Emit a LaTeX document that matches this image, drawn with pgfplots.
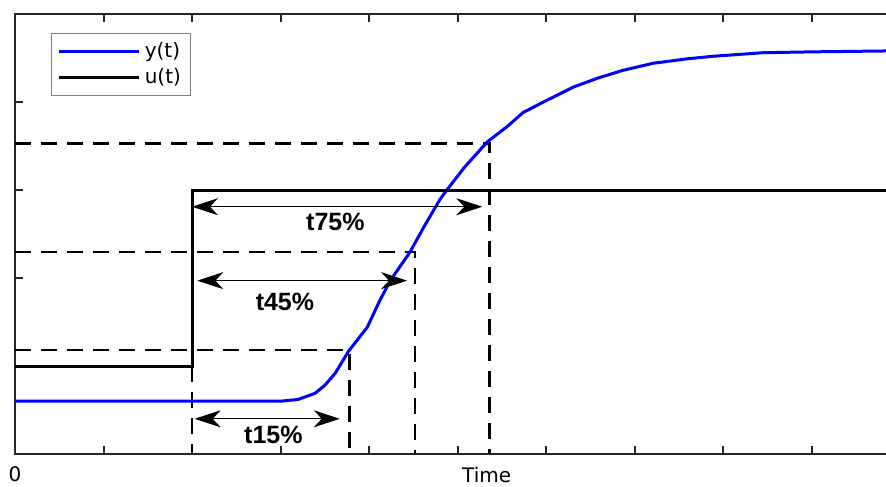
\documentclass[border=0pt]{standalone}
\usepackage{fontspec}
\setmainfont{DejaVu Sans}
\newfontfamily\lib{Liberation Sans}
\usepackage{pgfplots}
\pgfplotsset{compat=1.18}
\usetikzlibrary{arrows.meta}
\definecolor{axgray}{RGB}{38,38,38}
\begin{document}
\begin{tikzpicture}
\begin{axis}[
  scale only axis,
  width=442.5pt, height=220pt,
  xmin=0, xmax=10, ymin=0, ymax=5,
  axis line style={axgray, line width=1pt},
  tick style={axgray, line width=1pt},
  major tick length=4pt,
  tick align=inside,
  xtick={0,1,2,3,4,5,6,7,8,9,10},
  xticklabels={0,,,,,,,,,,},
  ytick={1,2,3,4},
  yticklabels={},
  /pgf/number format/assume math mode=true,
  tick label style={font=\fontsize{10pt}{12pt}\selectfont},
  xticklabel style={yshift=-3pt},
  xlabel={Time},
  xlabel style={at={(axis description cs:0.533,0)}, anchor=north, yshift=-3pt, font=\fontsize{10pt}{12pt}\selectfont},
  legend style={at={(axis description cs:0.041,0.957)}, anchor=north west,
     draw=gray, line width=0.5pt, font=\fontsize{10pt}{12pt}\selectfont,
     inner xsep=3pt, inner ysep=2.5pt, row sep=0pt},
  legend cell align=left,
  legend image code/.code={\draw[#1] (0pt,0pt) -- (40pt,0pt);},
  clip=false,
]
% dashed guides
\addplot[forget plot, black, line width=1.3pt, dash pattern=on 8pt off 5pt] coordinates {(0,1.18) (3.78,1.18) (3.78,0)};
\addplot[forget plot, black, line width=1.3pt, dash pattern=on 8pt off 5pt] coordinates {(0,2.295) (4.52,2.295) (4.52,0)};
\addplot[forget plot, black, line width=1.3pt, dash pattern=on 8pt off 5pt] coordinates {(0,3.53) (5.36,3.53) (5.36,0)};
\addplot[forget plot, black, line width=1.3pt, dash pattern=on 8pt off 5pt] coordinates {(2,1) (2,0)};
% y(t)
\addplot[blue, line width=1.5pt, line join=round] coordinates {
(0,0.60) (3.00,0.60) (3.20,0.62) (3.39,0.69) (3.50,0.78) (3.62,0.92) (3.77,1.17)
(3.98,1.44) (4.12,1.74) (4.24,1.97) (4.46,2.29) (4.62,2.58) (4.80,2.89) (4.88,3.00)
(5.08,3.26) (5.34,3.55) (5.56,3.72) (5.74,3.88) (6.01,4.02) (6.31,4.17)
(6.58,4.27) (6.87,4.36) (7.21,4.44) (7.59,4.49) (7.89,4.52) (8.45,4.56)
(9.02,4.57) (9.84,4.58) (10,4.58)};
\addlegendentry{y(t)}
% u(t)
\addplot[black, line width=1.5pt] coordinates {(0,1) (2,1) (2,3) (10,3)};
\addlegendentry{u(t)}
% arrows
\addplot[forget plot, black, line width=0.5pt, {Stealth[length=13pt,width=8.5pt,inset=4pt]}-{Stealth[length=13pt,width=8.5pt,inset=4pt]}] coordinates {(2.0,2.81) (5.28,2.81)};
\addplot[forget plot, black, line width=0.5pt, {Stealth[length=13pt,width=8.5pt,inset=4pt]}-{Stealth[length=13pt,width=8.5pt,inset=4pt]}] coordinates {(2.06,1.97) (4.43,1.97)};
\addplot[forget plot, black, line width=0.5pt, {Stealth[length=13pt,width=8.5pt,inset=4pt]}-{Stealth[length=13pt,width=8.5pt,inset=4pt]}] coordinates {(2.03,0.40) (3.67,0.40)};
\node[font=\lib\bfseries\fontsize{12.5pt}{14pt}\selectfont] at (axis cs:3.62,2.64) {t75\%};
\node[font=\lib\bfseries\fontsize{12.5pt}{14pt}\selectfont] at (axis cs:3.05,1.73) {t45\%};
\node[font=\lib\bfseries\fontsize{12.5pt}{14pt}\selectfont] at (axis cs:2.92,0.22) {t15\%};
\end{axis}
\pgfresetboundingbox
\path (current axis.south west) +(-7.5pt,-16pt) (current axis.north west) +(435.5pt,7pt);
\end{tikzpicture}
\end{document}
